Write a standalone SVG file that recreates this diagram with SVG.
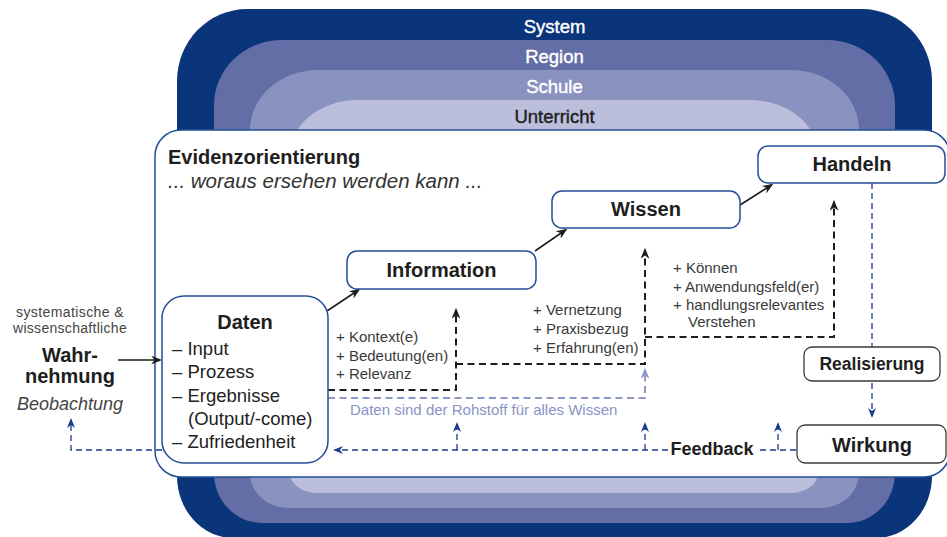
<svg xmlns="http://www.w3.org/2000/svg" width="947" height="537" viewBox="0 0 947 537">
<style>
text { font-family: "Liberation Sans", Arial, Helvetica, sans-serif; }
.lay { font-size: 18.5px; text-anchor: middle; stroke-width: 0.4; }
.node { fill: #fff; stroke: #234f95; stroke-width: 1.5; }
.node2 { fill: #fff; stroke: #3a3a3a; stroke-width: 1.3; }
.lbl { font-size: 20px; font-weight: bold; fill: #1e1e1e; text-anchor: middle; }
.item { font-size: 18.5px; fill: #222; }
.plus { font-size: 15px; fill: #3a3a3a; }
.side { fill: #444; text-anchor: middle; }
.solid { fill: none; stroke: #1e1e1e; stroke-width: 1.6; marker-end: url(#ab); }
.dk { fill: none; stroke: #1e1e1e; stroke-width: 2; stroke-dasharray: 7 4.5; marker-end: url(#ab); }
.pu { fill: none; stroke: #8d97c8; stroke-width: 2; stroke-dasharray: 7 4.5; marker-end: url(#ap); }
.nv { fill: none; stroke: #1a3d8a; stroke-width: 1.3; stroke-dasharray: 6 4; }
.nva { marker-end: url(#an); }
</style>
<defs>
<marker id="ab" viewBox="0 0 10 8" refX="8" refY="4" markerWidth="11" markerHeight="9" markerUnits="userSpaceOnUse" orient="auto">
<path d="M0,0 L10,4 L0,8 L3,4 z" fill="#1e1e1e"/>
</marker>
<marker id="ap" viewBox="0 0 10 8" refX="8" refY="4" markerWidth="11" markerHeight="9" markerUnits="userSpaceOnUse" orient="auto">
<path d="M0,0 L10,4 L0,8 L3,4 z" fill="#8d97c8"/>
</marker>
<marker id="an" viewBox="0 0 10 8" refX="8" refY="4" markerWidth="10" markerHeight="8" markerUnits="userSpaceOnUse" orient="auto">
<path d="M0,0 L10,4 L0,8 L3,4 z" fill="#1a3d8a"/>
</marker>
</defs>

<g id="layers">
<path d="M177,81 A70,72 0 0 1 247,9 H862 A70,72 0 0 1 932,81 V476 A56,62 0 0 1 876,538 H233 A56,62 0 0 1 177,476 Z" fill="#0b357b"/>
<path d="M214,105 A68,65 0 0 1 282,40 H827 A68,65 0 0 1 895,105 V473 A48,50 0 0 1 847,523 H262 A48,50 0 0 1 214,473 Z" fill="#626ea5"/>
<path d="M250,130 A68,60 0 0 1 318,70 H791 A68,60 0 0 1 859,130 V473 A38,35 0 0 1 821,508 H288 A38,35 0 0 1 250,473 Z" fill="#8a93bf"/>
<path d="M290,155 A68,55 0 0 1 358,100 H750 A68,55 0 0 1 818,155 V473 A28,20 0 0 1 790,493 H318 A28,20 0 0 1 290,473 Z" fill="#bbbfdc"/>
<text class="lay" x="554.5" y="33" fill="#fff" stroke="#fff">System</text>
<text class="lay" x="554.5" y="63" fill="#fff" stroke="#fff">Region</text>
<text class="lay" x="554.5" y="93" fill="#fff" stroke="#fff">Schule</text>
<text class="lay" x="554.5" y="123" fill="#1e1e1e" stroke="#1e1e1e">Unterricht</text>
</g>

<g id="evidenz">
<rect x="155" y="130" width="795" height="347" rx="26" fill="#fff" stroke="#234f95" stroke-width="1.5"/>
<text x="168" y="164" font-size="20" font-weight="bold" fill="#1e1e1e">Evidenzorientierung</text>
<text x="168" y="188" font-size="20.5" font-style="italic" fill="#333">... woraus ersehen werden kann ...</text>
</g>

<g id="connectors">
<line class="solid" x1="118" y1="360" x2="160" y2="360"/>
<line class="solid" x1="327" y1="311" x2="358.5" y2="290"/>
<line class="solid" x1="535" y1="251" x2="565.5" y2="230"/>
<line class="solid" x1="740" y1="205" x2="771.5" y2="185"/>
<path class="dk" d="M328,390 H456 V310"/>
<path class="dk" d="M456,364 H645 V250"/>
<path class="dk" d="M645,337 H834 V202"/>
<path class="pu" d="M328,398 H645 V370"/>
<path class="nv nva" d="M872,183 V416"/>
<path class="nv" d="M796,450 H757"/>
<path class="nv nva" d="M668,450 H335"/>
<path class="nv nva" d="M457,450 V424"/>
<path class="nv nva" d="M645,450 V424"/>
<path class="nv nva" d="M778,450 V424"/>
<path class="nv nva" d="M162,450 H71 V420"/>
<text x="712" y="455" font-size="18" font-weight="bold" fill="#1e1e1e" text-anchor="middle">Feedback</text>
<text x="350" y="415" font-size="15" fill="#8a93c6">Daten sind der Rohstoff für alles Wissen</text>
</g>

<g id="wahrnehmung">
<text class="side" x="70" y="317" font-size="14" letter-spacing="0.4">systematische &amp;</text>
<text class="side" x="70" y="333" font-size="14" letter-spacing="0.3">wissenschaftliche</text>
<text x="70" y="362" font-size="20" font-weight="bold" fill="#1e1e1e" text-anchor="middle">Wahr-</text>
<text x="70" y="383" font-size="20" font-weight="bold" fill="#1e1e1e" text-anchor="middle">nehmung</text>
<text class="side" x="70" y="410" font-size="18" font-style="italic">Beobachtung</text>
</g>

<g id="daten">
<rect class="node" x="162" y="296" width="166" height="167" rx="22"/>
<text class="lbl" x="245" y="329">Daten</text>
<text class="item" x="172" y="355">– Input</text>
<text class="item" x="172" y="378">– Prozess</text>
<text class="item" x="172" y="402">– Ergebnisse</text>
<text class="item" x="188" y="425">(Output/-come)</text>
<text class="item" x="172" y="448">– Zufriedenheit</text>
</g>

<g id="information">
<rect class="node" x="347" y="251" width="189" height="38" rx="10"/>
<text class="lbl" x="441.5" y="277">Information</text>
</g>

<g id="wissen">
<rect class="node" x="552" y="191" width="188" height="37" rx="10"/>
<text class="lbl" x="646" y="216">Wissen</text>
</g>

<g id="handeln">
<rect class="node" x="758" y="146" width="187" height="37" rx="10"/>
<text class="lbl" x="852" y="171">Handeln</text>
</g>

<g id="realisierung">
<rect class="node2" x="804" y="347" width="136" height="34" rx="8"/>
<text class="lbl" x="872" y="370" style="font-size:17.5px">Realisierung</text>
</g>

<g id="wirkung">
<rect class="node2" x="797" y="425" width="149" height="38" rx="8"/>
<text class="lbl" x="872" y="452">Wirkung</text>
</g>

<g id="annotations">
<text class="plus" x="336" y="342">+ Kontext(e)</text>
<text class="plus" x="336" y="361">+ Bedeutung(en)</text>
<text class="plus" x="336" y="379">+ Relevanz</text>
<text class="plus" x="533" y="315">+ Vernetzung</text>
<text class="plus" x="533" y="334">+ Praxisbezug</text>
<text class="plus" x="533" y="353">+ Erfahrung(en)</text>
<text class="plus" x="673" y="273">+ Können</text>
<text class="plus" x="673" y="292">+ Anwendungsfeld(er)</text>
<text class="plus" x="673" y="310">+ handlungsrelevantes</text>
<text class="plus" x="688" y="327">Verstehen</text>
</g>
</svg>
